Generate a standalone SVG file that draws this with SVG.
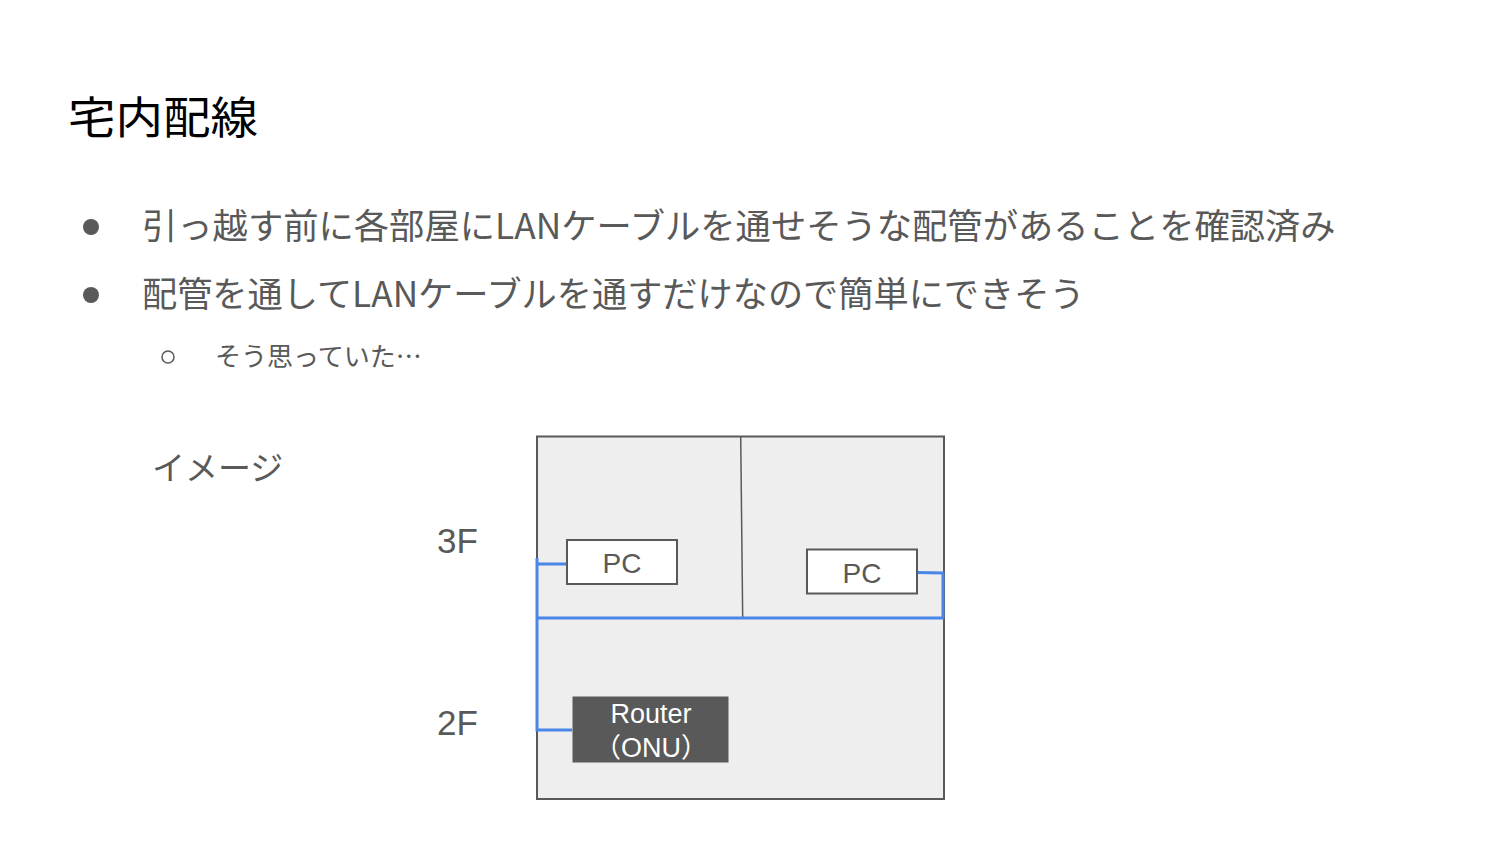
<svg xmlns="http://www.w3.org/2000/svg" width="1500" height="844" viewBox="0 0 1500 844">
<style>
.t{font-family:"Noto Sans CJK JP","Liberation Sans",sans-serif;fill:#595959}
.s{font-family:"Liberation Sans",Arial,sans-serif;fill:#595959}
.box{fill:#ffffff;stroke:#595959;stroke-width:2}
.wire{fill:none;stroke:#4a86e8;stroke-width:3}
</style>
<rect width="1500" height="844" fill="#ffffff"/>
<text x="68" y="134" font-size="44" font-family="'Noto Sans CJK JP',sans-serif" fill="#000000" textLength="190" lengthAdjust="spacingAndGlyphs">宅内配線</text>
<circle cx="91" cy="227" r="8" fill="#595959"/>
<text class="t" x="142" y="239" font-size="35.3">引っ越す前に各部屋にLANケーブルを通せそうな配管があることを確認済み</text>
<circle cx="91" cy="295" r="8" fill="#595959"/>
<text class="t" x="142" y="307" font-size="35.2">配管を通してLANケーブルを通すだけなので簡単にできそう</text>
<circle cx="168" cy="357" r="6" fill="none" stroke="#595959" stroke-width="1.5"/>
<text class="t" x="215" y="366" font-size="26">そう思っていた…</text>
<text class="t" x="152" y="480" font-size="33">イメージ</text>
<text class="s" x="437" y="553" font-size="35">3F</text>
<text class="s" x="437" y="735" font-size="35">2F</text>
<g id="house">
<rect x="537" y="436.5" width="407" height="362.5" fill="#eeeeee" stroke="#595959" stroke-width="2"/>
<line x1="740.7" y1="436.5" x2="742.7" y2="618" stroke="#595959" stroke-width="1.5"/>
</g>
<g id="connectors">
<polyline class="wire" points="537,558 537,730 572,730"/>
<polyline class="wire" points="537,564 567,564"/>
<polyline class="wire" points="537,618 944,618"/>
<polyline class="wire" points="917,572.5 943,573 943,618"/>
</g>
<g id="pc1">
<rect class="box" x="567" y="540" width="110" height="44"/>
<text class="s" x="622" y="573" font-size="28" text-anchor="middle">PC</text>
</g>
<g id="pc2">
<rect class="box" x="807" y="549.5" width="110" height="44"/>
<text class="s" x="862" y="583" font-size="28" text-anchor="middle">PC</text>
</g>
<g id="router">
<rect x="572.5" y="696.5" width="156" height="66" fill="#595959"/>
<text x="651" y="723" font-size="27" text-anchor="middle" font-family="'Liberation Sans',Arial,sans-serif" fill="#ffffff">Router</text>
<text x="651" y="757" font-size="27" text-anchor="middle" font-family="'Liberation Sans','Noto Sans CJK JP',sans-serif" fill="#ffffff">（ONU）</text>
</g>
</svg>
